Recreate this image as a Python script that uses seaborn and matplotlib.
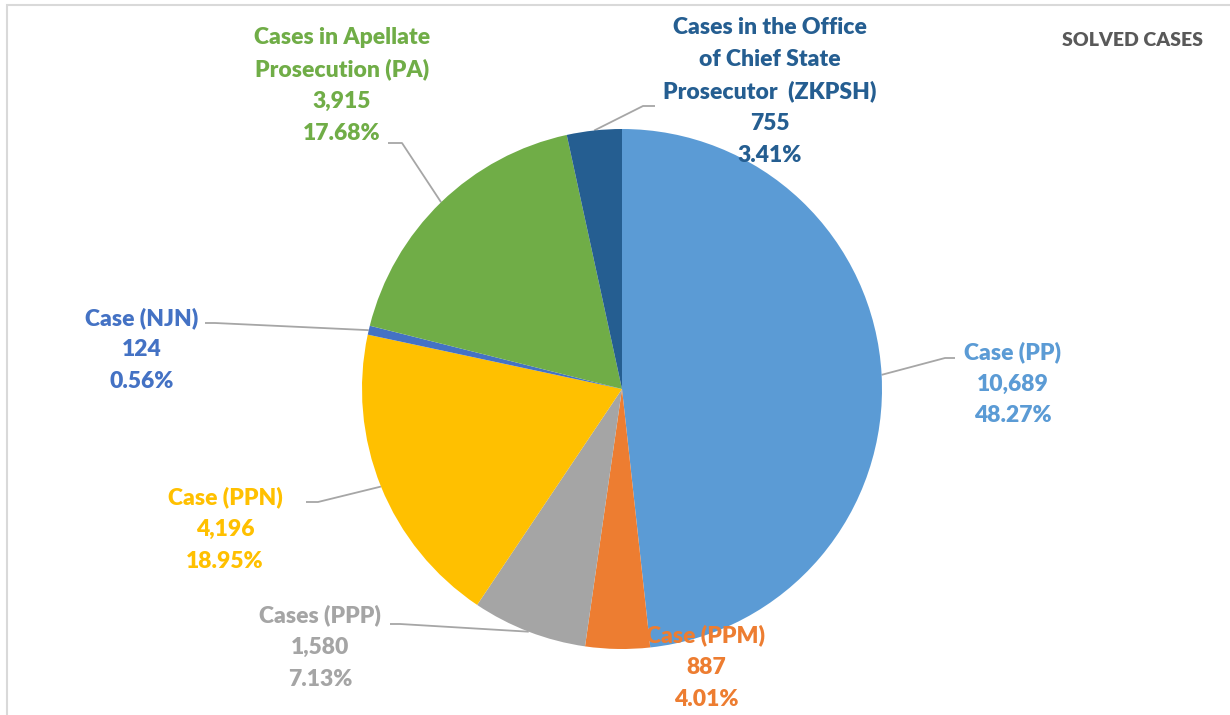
import matplotlib
matplotlib.use("Agg")
import matplotlib.pyplot as plt
import seaborn as sns
import numpy as np
from matplotlib.patches import Rectangle

# ---- data ----
categories = ["Case (PP)", "Case (PPM)", "Cases (PPP)", "Case (PPN)", "Case (NJN)",
              "Cases in Apellate\nProsecution (PA)",
              "Cases in the Office\nof Chief State\nProsecutor  (ZKPSH)"]
values = [10689, 887, 1580, 4196, 124, 3915, 755]
percent_labels = ["48.27%", "4.01%", "7.13%", "18.95%", "0.56%", "17.68%", "3.41%"]
title = "SOLVED CASES"

# ---- styling / layout ----
sns.set_theme(style="white")
plt.rcParams["font.family"] = ["Lato", "DejaVu Sans"]
colors = ["#5B9BD5", "#ED7D31", "#A5A5A5", "#FFC000", "#4472C4", "#70AD47", "#255E91"]

W, H = 1230, 715
fig = plt.figure(figsize=(W / 100, H / 100), dpi=100)
ax = fig.add_axes([0, 0, 1, 1])

cx, cy, r = 622, H - 389, 260
wedges, _ = ax.pie(values, colors=colors, startangle=90, counterclock=False,
                   center=(cx, cy), radius=r, frame=True,
                   wedgeprops=dict(linewidth=0))
ax.set_xlim(0, W)
ax.set_ylim(0, H)
ax.set_aspect("equal")
ax.axis("off")

# label positions (pixel coords of text block center, top line y)
label_pos = [(1013, 352), (706, 635), (320, 615), (225, 497), (142, 318), (342, 37), (770, 27)]
# leader elbow points (pixel coords): (elbow, end) or None
leaders = [((945, 358), (955, 358)), None, ((400, 624), (390, 624)),
           ((318, 502), (306, 502)), ((215, 323), (205, 323)),
           ((402, 143), (388, 143)), ((643, 106), (655, 106))]

line_h = 32
for i, w in enumerate(wedges):
    theta = np.deg2rad((w.theta1 + w.theta2) / 2)
    ex, ey = cx + r * np.cos(theta), cy + r * np.sin(theta)
    lx, ly = label_pos[i]
    lines = categories[i].split("\n") + [f"{values[i]:,}", percent_labels[i]]
    for j, t in enumerate(lines):
        ax.text(lx, H - (ly + j * line_h), t, ha="center", va="center",
                fontsize=16.5, fontweight="heavy", color=colors[i])
    if leaders[i] is not None:
        (bx, by), (fx, fy) = leaders[i]
        ax.plot([ex, bx, fx], [ey, H - by, H - fy], color="#A6A6A6", lw=1.3,
                solid_capstyle="butt", zorder=0.5)

ax.text(1133, H - 40, title, ha="center", va="center", fontsize=14,
        fontweight="heavy", color="#595959")

fig.patches.append(Rectangle((7 / W, -0.05), 1.2, (H - 5) / H + 0.05,
                             transform=fig.transFigure, fill=False,
                             edgecolor="#D9D9D9", lw=1.5))

fig.savefig("out.png", dpi=100, facecolor="white")
